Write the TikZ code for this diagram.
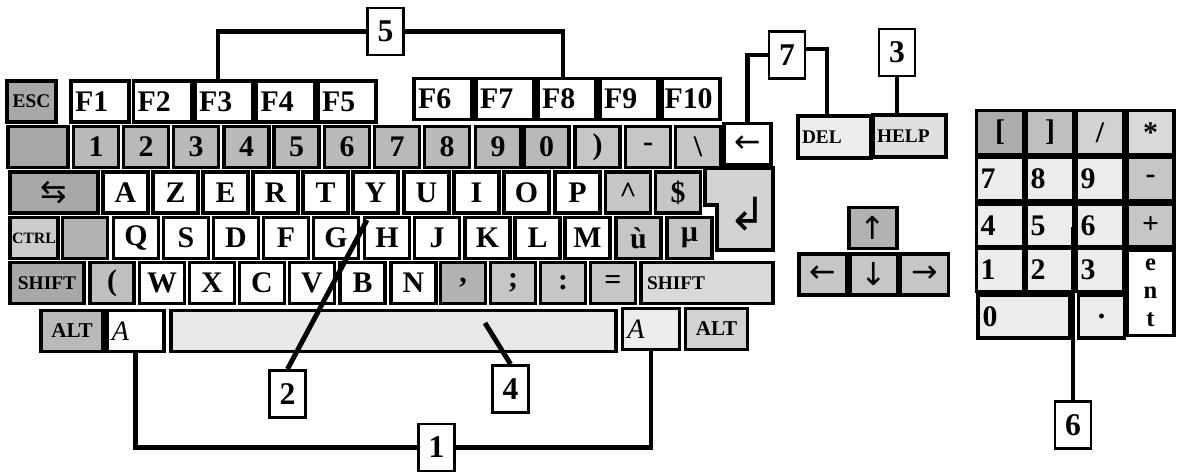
\documentclass[tikz,border=0pt]{standalone}
\usepackage{fontspec}
\setmainfont{Liberation Serif}
\newfontfamily\symfont{DejaVu Sans}

\begin{document}
\begin{tikzpicture}[
    key/.style={draw, line width=1.8pt, inner sep=0pt, outer sep=0pt, minimum width=0.9cm, minimum height=0.82cm, font=\fontsize{17}{17}\selectfont\bfseries},
    kw/.style={key, fill=white},
    kl/.style={key, fill=gray!15},
    km/.style={key, fill=gray!45},
    kd/.style={key, fill=gray!68},
    small/.style={font=\fontsize{11}{11}\selectfont\bfseries},
    arrowglyph/.style={font=\symfont\fontsize{18}{18}\selectfont},
    padl/.style={text width=#1, align=left},
    tag/.style={draw, line width=1.6pt, fill=white, inner sep=0pt, minimum width=0.72cm, minimum height=0.94cm, font=\fontsize{18}{18}\selectfont\bfseries},
    lead/.style={line width=2.8pt}
]
    \useasboundingbox (0,0) rectangle (23.58,9.48);

    % function keys
    \node[kd, minimum width=0.98cm, small] (kesc) at (0.63,7.45) {ESC};
    \node[kw, minimum width=1.16cm, padl=1cm] (kf1) at (2.0,7.45) {F1};
    \node[kw, minimum width=1.16cm, padl=1cm] (kf2) at (3.25,7.45) {F2};
    \node[kw, minimum width=1.16cm, padl=1cm] (kf3) at (4.48,7.45) {F3};
    \node[kw, minimum width=1.16cm, padl=1cm] (kf4) at (5.71,7.45) {F4};
    \node[kw, minimum width=1.16cm, padl=1cm] (kf5) at (6.94,7.45) {F5};
    \node[kw, minimum width=1.16cm, padl=1cm] (kf6) at (8.86,7.5) {F6};
    \node[kw, minimum width=1.16cm, padl=1cm] (kf7) at (10.1,7.5) {F7};
    \node[kw, minimum width=1.16cm, padl=1cm] (kf8) at (11.34,7.5) {F8};
    \node[kw, minimum width=1.16cm, padl=1cm] (kf9) at (12.58,7.5) {F9};
    \node[kw, minimum width=1.16cm, padl=1.06cm] (kf10) at (13.82,7.5) {F10};

    % number row
    \node[kd, minimum width=1.2cm] (ktil) at (0.76,6.54) {};
    \node[key, fill=gray!55] (kn1) at (1.92,6.54) {1};
    \node[key, fill=gray!55] (kn2) at (2.92,6.54) {2};
    \node[key, fill=gray!55] (kn3) at (3.92,6.54) {3};
    \node[key, fill=gray!55] (kn4) at (4.93,6.54) {4};
    \node[key, fill=gray!55] (kn5) at (5.93,6.54) {5};
    \node[key, fill=gray!55] (kn6) at (6.94,6.54) {6};
    \node[key, fill=gray!55] (kn7) at (7.94,6.54) {7};
    \node[key, fill=gray!55] (kn8) at (8.94,6.54) {8};
    \node[key, fill=gray!55] (kn9) at (9.96,6.54) {9};
    \node[key, fill=gray!55] (kn0) at (10.93,6.54) {0};
    \node[km] (kpar) at (11.95,6.54) {)};
    \node[km] (kmin) at (12.96,6.54) {-};
    \node[km] (kbsl) at (13.96,6.54) {\textbackslash};
    \node[kw, minimum width=0.94cm, arrowglyph] (kbs) at (14.95,6.6) {←};

    % azerty row
    \node[kd, minimum width=1.76cm, arrowglyph] (ktab) at (1.08,5.63) {⇆};
    \node[kw] (ka) at (2.51,5.63) {A};
    \node[kw] (kz) at (3.51,5.63) {Z};
    \node[kw] (ke) at (4.51,5.63) {E};
    \node[kw] (kr) at (5.51,5.63) {R};
    \node[kw] (kt) at (6.51,5.63) {T};
    \node[kw] (ky) at (7.51,5.63) {Y};
    \node[kw] (ku) at (8.53,5.63) {U};
    \node[kw] (ki) at (9.53,5.63) {I};
    \node[kw] (ko) at (10.53,5.63) {O};
    \node[kw] (kp) at (11.55,5.63) {P};
    \node[km] (kcirc) at (12.56,5.63) {\textasciicircum};
    \node[km] (kdol) at (13.56,5.63) {\$};
    \draw[line width=1.8pt, fill=gray!35] (14.1,6.12) -- (15.46,6.12) -- (15.46,4.48) -- (14.34,4.48) -- (14.34,5.38) -- (14.1,5.38) -- cycle;
    \node[font=\symfont\fontsize{26}{26}\selectfont] (kret) at (14.95,5.2) {↲};

    % qsdf row
    \node[key, fill=gray!40, minimum width=0.96cm, font=\fontsize{9}{9}\selectfont\bfseries] (kctrl) at (0.68,4.72) {CTRL};
    \node[key, fill=gray!60] (khash) at (1.7,4.72) {};
    \node[kw] (kq) at (2.72,4.72) {Q};
    \node[kw] (ks) at (3.72,4.72) {S};
    \node[kw] (kd) at (4.72,4.72) {D};
    \node[kw] (kf) at (5.72,4.72) {F};
    \node[kw] (kg) at (6.72,4.72) {G};
    \node[kw] (kh) at (7.74,4.72) {H};
    \node[kw] (kj) at (8.74,4.72) {J};
    \node[kw] (kk) at (9.75,4.72) {K};
    \node[kw] (kl) at (10.75,4.72) {L};
    \node[kw] (km) at (11.75,4.72) {M};
    \node[km] (kugr) at (12.77,4.72) {ù};
    \node[km] (kmu) at (13.79,4.72) {µ};

    % wxcv row
    \node[kd, minimum width=1.48cm, small] (kshl) at (0.94,3.82) {SHIFT};
    \node[key, fill=gray!50, minimum width=0.88cm] (kpl) at (2.24,3.82) {(};
    \node[kw] (kw) at (3.24,3.82) {W};
    \node[kw] (kx) at (4.24,3.82) {X};
    \node[kw] (kc) at (5.24,3.82) {C};
    \node[kw] (kv) at (6.24,3.82) {V};
    \node[kw] (kb) at (7.25,3.82) {B};
    \node[kw] (kn) at (8.27,3.82) {N};
    \node[key, fill=gray!60] (kcom) at (9.26,3.82) {,};
    \node[km] (ksem) at (10.26,3.82) {;};
    \node[km] (kcol) at (11.26,3.82) {:};
    \node[km] (keq) at (12.26,3.82) {=};
    \node[key, fill=gray!30, minimum width=2.64cm, small, padl=2.4cm] (kshr) at (14.14,3.82) {SHIFT};

    % space row
    \node[key, fill=gray!55, minimum width=1.24cm, font=\fontsize{12}{12}\selectfont\bfseries] (kaltl) at (1.44,2.86) {ALT};
    \node[kw, minimum width=1.14cm, padl=0.95cm, font=\fontsize{16}{16}\selectfont\itshape] (kal) at (2.71,2.86) {A};
    \node[key, fill=gray!18, minimum width=8.9cm] (kspc) at (7.87,2.86) {};
    \node[kl, minimum width=1.14cm, padl=0.95cm, font=\fontsize{16}{16}\selectfont\itshape] (kar) at (13.02,2.9) {A};
    \node[key, fill=gray!35, minimum width=1.24cm, font=\fontsize{12}{12}\selectfont\bfseries] (kaltr) at (14.33,2.9) {ALT};

    % del, help, cursor keys
    \node[kl, minimum width=1.46cm, minimum height=0.84cm, small, padl=1.3cm] (kdel) at (16.69,6.74) {DEL};
    \node[key, fill=gray!25, minimum width=1.46cm, minimum height=0.84cm, small, padl=1.3cm] (khelp) at (18.19,6.76) {HELP};
    \node[key, fill=gray!60, minimum width=0.96cm, arrowglyph] (kup) at (17.46,4.92) {↑};
    \node[km, minimum width=0.96cm, arrowglyph] (klt) at (16.46,3.99) {←};
    \node[km, minimum width=0.96cm, arrowglyph] (kdn) at (17.48,3.99) {↓};
    \node[km, minimum width=0.96cm, arrowglyph] (krt) at (18.49,3.99) {→};

    % keypad
    \node[key, fill=gray!65, minimum width=0.94cm, minimum height=0.88cm] (nplb) at (20.0,6.83) {[};
    \node[key, fill=gray!50, minimum width=0.94cm, minimum height=0.88cm] (nprb) at (21.0,6.83) {]};
    \node[key, fill=gray!35, minimum width=0.94cm, minimum height=0.88cm] (npsl) at (22.0,6.83) {/};
    \node[key, fill=gray!30, minimum width=0.94cm, minimum height=0.88cm] (npst) at (23.01,6.83) {*};
    \node[kl, minimum width=0.94cm, minimum height=0.86cm, padl=0.78cm] (np7) at (20.0,5.9) {7};
    \node[kl, minimum width=0.94cm, minimum height=0.86cm, padl=0.78cm] (np8) at (21.0,5.9) {8};
    \node[kl, minimum width=0.94cm, minimum height=0.86cm, padl=0.78cm] (np9) at (22.0,5.9) {9};
    \node[km, minimum width=0.94cm, minimum height=0.86cm] (npmi) at (23.01,5.9) {-};
    \node[kl, minimum width=0.94cm, minimum height=0.86cm, padl=0.78cm] (np4) at (20.0,4.97) {4};
    \node[kl, minimum width=0.94cm, minimum height=0.86cm, padl=0.78cm] (np5) at (21.0,4.97) {5};
    \node[kl, minimum width=0.94cm, minimum height=0.86cm, padl=0.78cm] (np6) at (22.0,4.97) {6};
    \node[km, minimum width=0.94cm, minimum height=0.86cm] (nppl) at (23.01,4.97) {+};
    \node[kl, minimum width=0.94cm, minimum height=0.86cm, padl=0.78cm] (np1) at (20.0,4.08) {1};
    \node[kl, minimum width=0.94cm, minimum height=0.86cm, padl=0.78cm] (np2) at (21.0,4.08) {2};
    \node[kl, minimum width=0.94cm, minimum height=0.86cm, padl=0.78cm] (np3) at (22.0,4.08) {3};
    \node[kw, minimum width=0.94cm, minimum height=1.7cm, align=center, font=\fontsize{14}{16}\selectfont\bfseries] (npent) at (23.01,3.62) {e\\n\\t};
    \node[kl, minimum width=1.84cm, minimum height=0.86cm, padl=1.66cm] (np0) at (20.48,3.15) {0};
    \node[kl, minimum width=0.92cm, minimum height=0.86cm] (npdot) at (22.03,3.15) {.};

    % numbered labels
    \node[tag] (tag1) at (8.73,0.53) {1};
    \node[tag] (tag2) at (5.75,1.6) {2};
    \node[tag] (tag3) at (17.94,8.43) {3};
    \node[tag] (tag4) at (10.21,1.7) {4};
    \node[tag] (tag5) at (7.71,8.85) {5};
    \node[tag] (tag6) at (21.46,0.98) {6};
    \node[tag] (tag7) at (15.74,8.38) {7};

    \coordinate (p2) at (7.34,5.08);
    \coordinate (p4) at (9.7,3.02);
    \coordinate (p6) at (21.46,4.94);

    % leaders
    \draw[lead] (kal.south) |- (tag1.west);
    \draw[lead] (kar.south) |- (tag1.east);
    \draw[lead] (tag2.north) -- (p2);
    \draw[lead] (tag3.south) -- (tag3.south |- khelp.north);
    \draw[lead] (tag4.north) -- (p4);
    \draw[lead] ([xshift=-0.12cm]kf3.north) |- (tag5.west);
    \draw[lead] ([xshift=-0.08cm]kf8.north) |- (tag5.east);
    \draw[lead] (tag6.north) -- (p6);
    \draw[lead] (kbs.north) |- (tag7.west);
    \draw[lead] ([xshift=-0.15cm]kdel.north) |- ([yshift=0.12cm]tag7.east);
\end{tikzpicture}
\end{document}
